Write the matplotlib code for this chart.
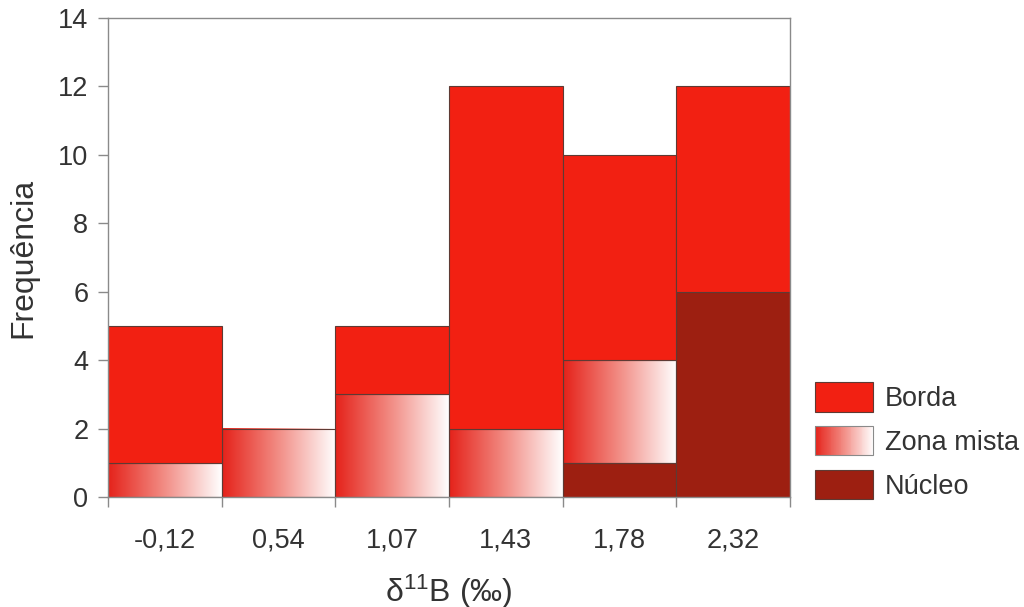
import numpy as np
import matplotlib
matplotlib.use('Agg')
import matplotlib.pyplot as plt
from matplotlib.patches import Rectangle
from matplotlib.legend_handler import HandlerBase
from matplotlib.colors import LinearSegmentedColormap

# Frequency of d11B classes per crystal zone (stacked: core, mixed zone, rim)
categories = ['-0,12', '0,54', '1,07', '1,43', '1,78', '2,32']
nucleo = [0, 0, 0, 0, 1, 6]
zona_mista = [1, 2, 3, 2, 3, 0]
borda = [4, 0, 2, 10, 6, 6]
y_ticks = [0, 2, 4, 6, 8, 10, 12, 14]

plt.rcParams['font.family'] = ['Liberation Sans', 'DejaVu Sans']
plt.rcParams['mathtext.fontset'] = 'custom'
plt.rcParams['mathtext.rm'] = 'Liberation Sans'
plt.rcParams['mathtext.it'] = 'Liberation Sans'

c_borda = '#f22012'
c_nucleo = '#9d1f11'
c_edge = '#5e3a34'
c_axis = '#8a8a8a'
c_text = '#333333'
grad_cmap = LinearSegmentedColormap.from_list('mix', ['#e5221a', '#f28e86', '#ffffff'])

fig = plt.figure(figsize=(10.24, 6.07), dpi=100)
ax = fig.add_axes([0.1055, 0.1812, 0.666, 0.7891])

x = np.arange(len(categories))
nuc = np.array(nucleo, float)
mix = np.array(zona_mista, float)
bor = np.array(borda, float)

# core (bottom)
m = nuc > 0
ax.bar(x[m], nuc[m], width=1.0, color=c_nucleo, edgecolor=c_edge, linewidth=0.8, zorder=2)

# mixed zone with horizontal red-to-white gradient
grad = np.linspace(0, 1, 256).reshape(1, -1)
for xi, b, h in zip(x, nuc, mix):
    if h > 0:
        ax.imshow(grad, cmap=grad_cmap, extent=(xi - 0.5, xi + 0.5, b, b + h),
                  aspect='auto', interpolation='bilinear', zorder=1)
m = mix > 0
ax.bar(x[m], mix[m], bottom=nuc[m], width=1.0, fill=False, edgecolor=c_edge, linewidth=0.8, zorder=2)

# rim (top)
m = bor > 0
ax.bar(x[m], bor[m], bottom=(nuc + mix)[m], width=1.0, color=c_borda, edgecolor=c_edge, linewidth=0.8, zorder=2)

ax.set_xlim(-0.5, len(categories) - 0.5)
ax.set_ylim(0, 14)
ax.set_aspect('auto')

for s in ax.spines.values():
    s.set_color(c_axis)
    s.set_linewidth(1.0)
    s.set_zorder(3)

ax.set_yticks(y_ticks)
ax.tick_params(axis='y', direction='out', length=7.2, width=1.0, color=c_axis,
               labelsize=19.5, labelcolor=c_text, pad=7)
ax.set_xticks(np.arange(len(categories) + 1) - 0.5)
ax.set_xticklabels([])
ax.tick_params(axis='x', which='major', direction='out', length=7.2, width=1.0, color=c_axis)
ax.set_xticks(x, minor=True)
ax.set_xticklabels(categories, minor=True)
ax.tick_params(axis='x', which='minor', length=0, labelsize=19.5, labelcolor=c_text, pad=22)

ax.set_ylabel('Frequência', fontsize=23, color=c_text, labelpad=14)
ax.set_xlabel(r'δ$^{11}$B (‰)', fontsize=23, color=c_text, labelpad=14)


class GradientHandler(HandlerBase):
    def create_artists(self, legend, orig_handle, xdescent, ydescent, width, height, fontsize, trans):
        n = 64
        arts = []
        for i in range(n):
            r = Rectangle((-xdescent + width * i / n, -ydescent), width / n * 1.3, height,
                          facecolor=grad_cmap((i + 0.5) / n), edgecolor='none',
                          linewidth=0, transform=trans)
            arts.append(r)
        arts.append(Rectangle((-xdescent, -ydescent), width, height, fill=False,
                              edgecolor='#8a8a8a', linewidth=0.8, transform=trans))
        return arts


h_borda = Rectangle((0, 0), 1, 1, facecolor=c_borda, edgecolor=c_edge, linewidth=0.8)
h_mix = Rectangle((0, 0), 1, 1)
h_nuc = Rectangle((0, 0), 1, 1, facecolor=c_nucleo, edgecolor=c_edge, linewidth=0.8)
leg = fig.legend([h_borda, h_mix, h_nuc], ['Borda', 'Zona mista', 'Núcleo'],
                 handler_map={h_mix: GradientHandler()},
                 loc='upper left', bbox_to_anchor=(0.796, 1 - 382 / 607),
                 frameon=False, fontsize=19.5, handlelength=2.15, handleheight=1.3,
                 handletextpad=0.42, labelspacing=0.52, borderpad=0, borderaxespad=0)
for t in leg.get_texts():
    t.set_color(c_text)

fig.savefig('out.png', dpi=100)
